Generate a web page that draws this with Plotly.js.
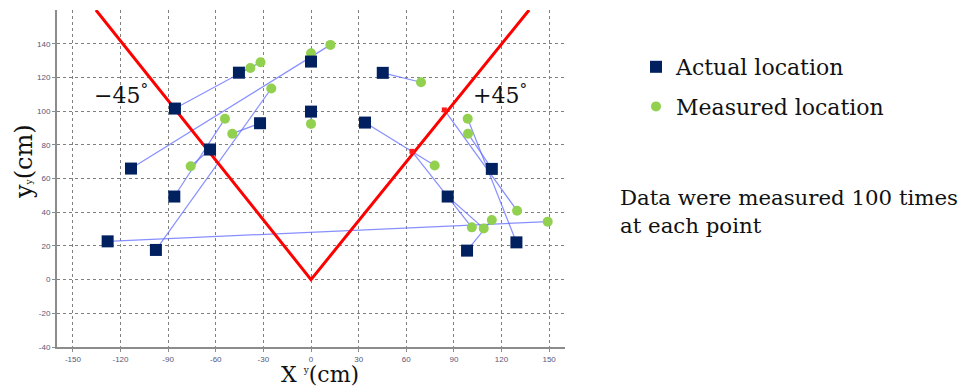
<!DOCTYPE html>
<html>
<head>
<meta charset="utf-8">
<script src="https://cdn.plot.ly/plotly-3.0.1.min.js"></script>
<style>html,body{margin:0;padding:0;background:#fff;}#chart{width:965px;height:387px;}</style>
</head>
<body>
<div id="chart"></div>
<script>
// Actual locations (navy squares)
const actualX = [-113.4, -85.7, -45.4, -63.6, -86.1, -128.1, -97.7, -32.1, 0, 0, 34.0, 45.2, 86.1, 113.9, 98.3, 129.4];
const actualY = [65.9, 101.5, 122.8, 77.2, 49.3, 22.7, 17.6, 92.8, 129.4, 99.7, 93.2, 122.7, 49.3, 65.7, 17.2, 22.1];
// Actual locations lying on the +45° line (small red squares)
const onLineX = [84.0, 63.6];
const onLineY = [100.7, 76.1];
// Measured locations, in the same order as actualX followed by onLineX
const measuredX = [12.2, -31.8, -38.2, -75.8, -54.2, 149.1, -25.0, -49.6, 0, 0, 77.9, 69.3, 108.8, 98.9, 113.9, 98.7, 129.8, 101.3];
const measuredY = [139.3, 129.0, 125.6, 67.3, 95.5, 34.4, 113.4, 86.6, 134.3, 92.4, 67.7, 117.1, 30.4, 86.6, 35.4, 95.5, 40.9, 31.0];
// Boundary lines (−45° and +45°)
const boundaryX = [-135.5, 0, 137.4];
const boundaryY = [160, 0, 160];
// Tick labels
const xTickVals = [-150, -120, -90, -60, -30, 0, 30, 60, 90, 120, 150];
const xTickText = ['-150', '-120', '-90', '-60', '-30', '0', '30', '60', '90', '120', '150'];
const yTickVals = [-40, -20, 0, 20, 40, 60, 80, 100, 120, 140];
const yTickText = ['-40', '-20', '0', '20', '40', '60', '80', '100', '120', '140'];
const legendNames = ['Actual location', 'Measured location'];
const noteText = 'Data were measured 100 times<br>at each point';

const allActX = actualX.concat(onLineX);
const allActY = actualY.concat(onLineY);
const linkX = [], linkY = [];
for (let i = 0; i < allActX.length; i++) {
  linkX.push(allActX[i], measuredX[i], null);
  linkY.push(allActY[i], measuredY[i], null);
}

const L = 57, R = 565, T = 10, B = 347;
const px = p => (p - L) / (R - L);
const py = p => (B - p) / (B - T);
const serif = 'DejaVu Serif, Liberation Serif, serif';

const traces = [
  {x: linkX, y: linkY, mode: 'lines', line: {color: 'rgba(105,115,255,0.8)', width: 1.2}, showlegend: false, hoverinfo: 'skip'},
  {x: boundaryX, y: boundaryY, mode: 'lines', line: {color: '#ff0000', width: 3}, showlegend: false},
  {x: measuredX, y: measuredY, mode: 'markers', name: legendNames[1], legendgroup: 'b', legendrank: 2,
   marker: {symbol: 'circle', color: '#92d050', size: 10}},
  {x: actualX, y: actualY, mode: 'markers', name: legendNames[0], legendgroup: 'a', legendrank: 1,
   marker: {symbol: 'square', color: '#002060', size: 12}},
  {x: onLineX, y: onLineY, mode: 'markers', showlegend: false,
   marker: {symbol: 'square', color: '#ff1a1a', size: 5}}
];

const axisCommon = {
  showline: true, linecolor: '#8c8c8c', linewidth: 2, mirror: false,
  showgrid: true, gridcolor: '#808080', griddash: 'dot', gridwidth: 1,
  zeroline: false, ticks: 'outside', ticklen: 3, tickcolor: '#8c8c8c',
  tickfont: {family: 'Liberation Sans, Arial, sans-serif', size: 8, color: '#55557a'},
  tickmode: 'array', fixedrange: true
};

const layout = {
  width: 965, height: 387,
  margin: {l: L, r: 965 - R, t: T, b: 387 - B, pad: 0},
  paper_bgcolor: '#ffffff', plot_bgcolor: '#ffffff',
  xaxis: Object.assign({}, axisCommon, {range: [-160, 160], tickvals: xTickVals, ticktext: xTickText}),
  yaxis: Object.assign({}, axisCommon, {range: [-40, 160], tickvals: yTickVals, ticktext: yTickText}),
  showlegend: true,
  legend: {x: px(636), y: py(46), xanchor: 'left', yanchor: 'top', bgcolor: 'rgba(0,0,0,0)',
           font: {family: serif, size: 22, color: '#111'}, traceorder: 'grouped', tracegroupgap: 8},
  annotations: [
    {x: -119.7, y: 110.4, xref: 'x', yref: 'y', text: '−45<sup>°</sup>', showarrow: false,
     font: {family: serif, size: 22, color: '#111'}},
    {x: 119.0, y: 110.4, xref: 'x', yref: 'y', text: '+45<sup>°</sup>', showarrow: false,
     font: {family: serif, size: 22, color: '#111'}},
    {x: px(24), y: py(162), xref: 'paper', yref: 'paper', xanchor: 'center', yanchor: 'middle',
     text: 'y<span style="font-size:9px">y</span>(cm)', textangle: -90, showarrow: false,
     font: {family: serif, size: 24, color: '#111'}},
    {x: px(320), y: py(361), xref: 'paper', yref: 'paper', xanchor: 'center', yanchor: 'top', borderpad: 0,
     text: 'X <sup><span style="font-size:9px">y</span></sup>(cm)', showarrow: false,
     font: {family: serif, size: 22, color: '#111'}},
    {x: px(618), y: py(211), xref: 'paper', yref: 'paper', xanchor: 'left', yanchor: 'middle', align: 'left',
     text: noteText, showarrow: false, font: {family: serif, size: 21.3, color: '#111'}}
  ]
};

Plotly.newPlot('chart', traces, layout, {displayModeBar: false, staticPlot: true});
</script>
</body>
</html>
